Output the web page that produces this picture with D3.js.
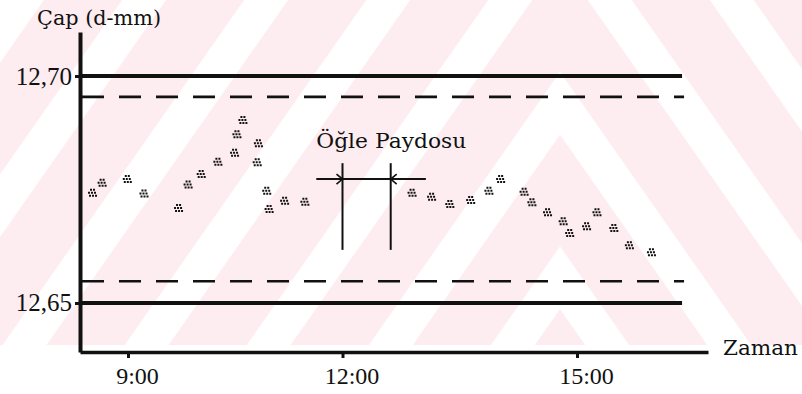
<!DOCTYPE html>
<html><head><meta charset="utf-8">
<script src="https://cdn.jsdelivr.net/npm/d3@7"></script>
<style>body{margin:0;background:#fff}svg{display:block}</style>
</head><body><svg id="c" width="802" height="394"></svg>
<script>
// ---- data ----
const sampleTimes = ["8:30","8:38","8:59","9:13","9:42","9:50","10:01","10:15","10:29","10:31","10:36","10:49","10:48","10:56","10:58","11:11","11:28",
  "12:53","13:08","13:22","13:38","13:52","14:01","14:19","14:25","14:37","14:49","14:54","15:07","15:15","15:28","15:40","15:57"];
const sampleValues = [12.6743,12.6765,12.6773,12.6741,12.6709,12.6761,12.6784,12.6811,12.6831,12.6872,12.6903,12.6852,12.6810,12.6747,12.6707,12.6725,12.6723,
  12.6743,12.6734,12.6718,12.6727,12.6747,12.6773,12.6745,12.6722,12.6700,12.6680,12.6654,12.6669,12.6700,12.6665,12.6627,12.6612];
const specLimits = [12.65, 12.70];
const specLabels = ["12,65", "12,70"];
const innerLimits = [12.6548, 12.6954];
const xTickTimes = ["9:00", "12:00", "15:00"];
const xDomainTimes = ["8:20", "16:41"];
const yDomain = [12.6392, 12.7097];
const limitLineEnd = "16:21";
const lunchTimes = ["12:00", "12:37"];
const lunchSpan = [12.6617, 12.6808];
const lunchArrowTimes = ["11:38", "13:04"];
const lunchArrowValue = 12.6773;
const lunchLabelValue = 12.6841;
const lunchLabel = "Öğle Paydosu";
const yTitle = "Çap (d-mm)";
const xTitle = "Zaman";

// ---- helpers ----
const toH = s => { const [h, m] = s.split(":").map(Number); return h + m / 60; };
const points = sampleTimes.map((t, i) => ({t: toH(t), v: sampleValues[i]}));

const svg = d3.select("#c");
const ink = "#111";
const serif = "'Liberation Serif', serif";
const slab = "'DejaVu Serif', serif";

// scales (hand-drawn time axis is slightly uneven, so polylinear)
const tick = xTickTimes.map(toH);
const x = d3.scaleLinear()
  .domain([toH(xDomainTimes[0]), ...tick, toH(xDomainTimes[1])])
  .range([80, 128, 342.5, 577, 708]);
const y = d3.scaleLinear().domain(yDomain).range([352, 32]);

// ---- faint watermark background ----
const defs = svg.append("defs");
const pat = defs.append("pattern").attr("id", "wm")
  .attr("patternUnits", "userSpaceOnUse").attr("width", 100).attr("height", 400)
  .attr("patternTransform", "rotate(35)");
pat.append("rect").attr("width", 100).attr("height", 400).attr("fill", "#fdecf0");
pat.append("rect").attr("x", 0).attr("width", 36).attr("height", 400).attr("fill", "#ffffff");
const wm = svg.append("g");
wm.append("rect").attr("x", 0).attr("y", 0).attr("width", 560).attr("height", 345).attr("fill", "url(#wm)");
wm.append("g").attr("transform", "translate(1120,0) scale(-1,1)")
  .append("rect").attr("x", 318).attr("y", 0).attr("width", 242).attr("height", 345).attr("fill", "url(#wm)");

// ---- limit lines ----
const xEnd = x(toH(limitLineEnd));
svg.append("g").selectAll("line.spec").data(specLimits).join("line")
  .attr("x1", x.range()[0]).attr("x2", xEnd)
  .attr("y1", d => y(d)).attr("y2", d => y(d))
  .attr("stroke", ink).attr("stroke-width", 4);
svg.append("g").selectAll("line.inner").data(innerLimits).join("line")
  .attr("x1", x.range()[0] + 2).attr("x2", xEnd + 2)
  .attr("y1", d => y(d)).attr("y2", d => y(d))
  .attr("stroke", ink).attr("stroke-width", 2.6).attr("stroke-dasharray", "22,15");

// ---- axes ----
const yAxis = svg.append("g").attr("transform", `translate(${x.range()[0]},0)`)
  .call(d3.axisLeft(y).tickValues(specLimits).tickFormat((d, i) => specLabels[i])
    .tickSize(5).tickSizeOuter(0).tickPadding(3));
yAxis.select(".domain").attr("stroke", ink).attr("stroke-width", 4);
yAxis.selectAll(".tick line").attr("stroke", ink).attr("stroke-width", 3);
yAxis.selectAll(".tick text").attr("font-family", serif).attr("font-size", 25).attr("fill", ink);

const xAxis = svg.append("g").attr("transform", `translate(0,${y.range()[0]})`)
  .call(d3.axisBottom(x).tickValues(tick).tickFormat((d, i) => xTickTimes[i])
    .tickSize(6).tickSizeOuter(0).tickPadding(9));
xAxis.select(".domain").attr("stroke", ink).attr("stroke-width", 3.5);
xAxis.selectAll(".tick text").attr("font-family", serif).attr("font-size", 24)
  .attr("fill", ink).attr("dx", 9);
xAxis.selectAll(".tick line").attr("stroke", ink).attr("stroke-width", 3);

// titles
svg.append("text").attr("x", 37).attr("y", 25).text(yTitle)
  .attr("font-family", slab).attr("font-size", 21).attr("fill", ink)
  .attr("textLength", 124).attr("lengthAdjust", "spacingAndGlyphs");
svg.append("text").attr("x", 723).attr("y", 355).text(xTitle)
  .attr("font-family", slab).attr("font-size", 21).attr("fill", ink)
  .attr("textLength", 75).attr("lengthAdjust", "spacingAndGlyphs");

// ---- lunch break annotation ----
const ann = svg.append("g").attr("stroke", ink).attr("stroke-width", 2).attr("fill", "none");
ann.selectAll("line.v").data(lunchTimes).join("line")
  .attr("x1", d => x(toH(d))).attr("x2", d => x(toH(d)))
  .attr("y1", y(lunchSpan[1])).attr("y2", y(lunchSpan[0]));
const ay = y(lunchArrowValue);
ann.append("line").attr("x1", x(toH(lunchArrowTimes[0]))).attr("x2", x(toH(lunchArrowTimes[1])))
  .attr("y1", ay).attr("y2", ay);
const a0 = x(toH(lunchTimes[0])), a1 = x(toH(lunchTimes[1]));
ann.append("path").attr("d", `M${a0 - 6},${ay - 5} L${a0},${ay} L${a0 - 6},${ay + 5}`).attr("stroke-width", 1.6);
ann.append("path").attr("d", `M${a1 + 6},${ay - 5} L${a1},${ay} L${a1 + 6},${ay + 5}`).attr("stroke-width", 1.6);
svg.append("text").attr("x", x(toH(lunchArrowTimes[0]))).attr("y", y(lunchLabelValue))
  .text(lunchLabel).attr("font-family", slab).attr("font-size", 21).attr("fill", ink)
  .attr("textLength", 150).attr("lengthAdjust", "spacingAndGlyphs");

// ---- sample points (little clusters of dots) ----
const dots = [[-2,-4],[1,-4],[-4,-1],[-1,-1],[2,-1],[-3,2],[0,2],[3,2]];
const markerPath = dots.map(([dx, dy]) => `M${dx},${dy}h2v2h-2Z`).join("");
svg.append("g").selectAll("path.pt").data(points).join("path")
  .attr("transform", d => `translate(${x(d.t)},${y(d.v)})`)
  .attr("d", markerPath).attr("fill", ink);
</script></body></html>
